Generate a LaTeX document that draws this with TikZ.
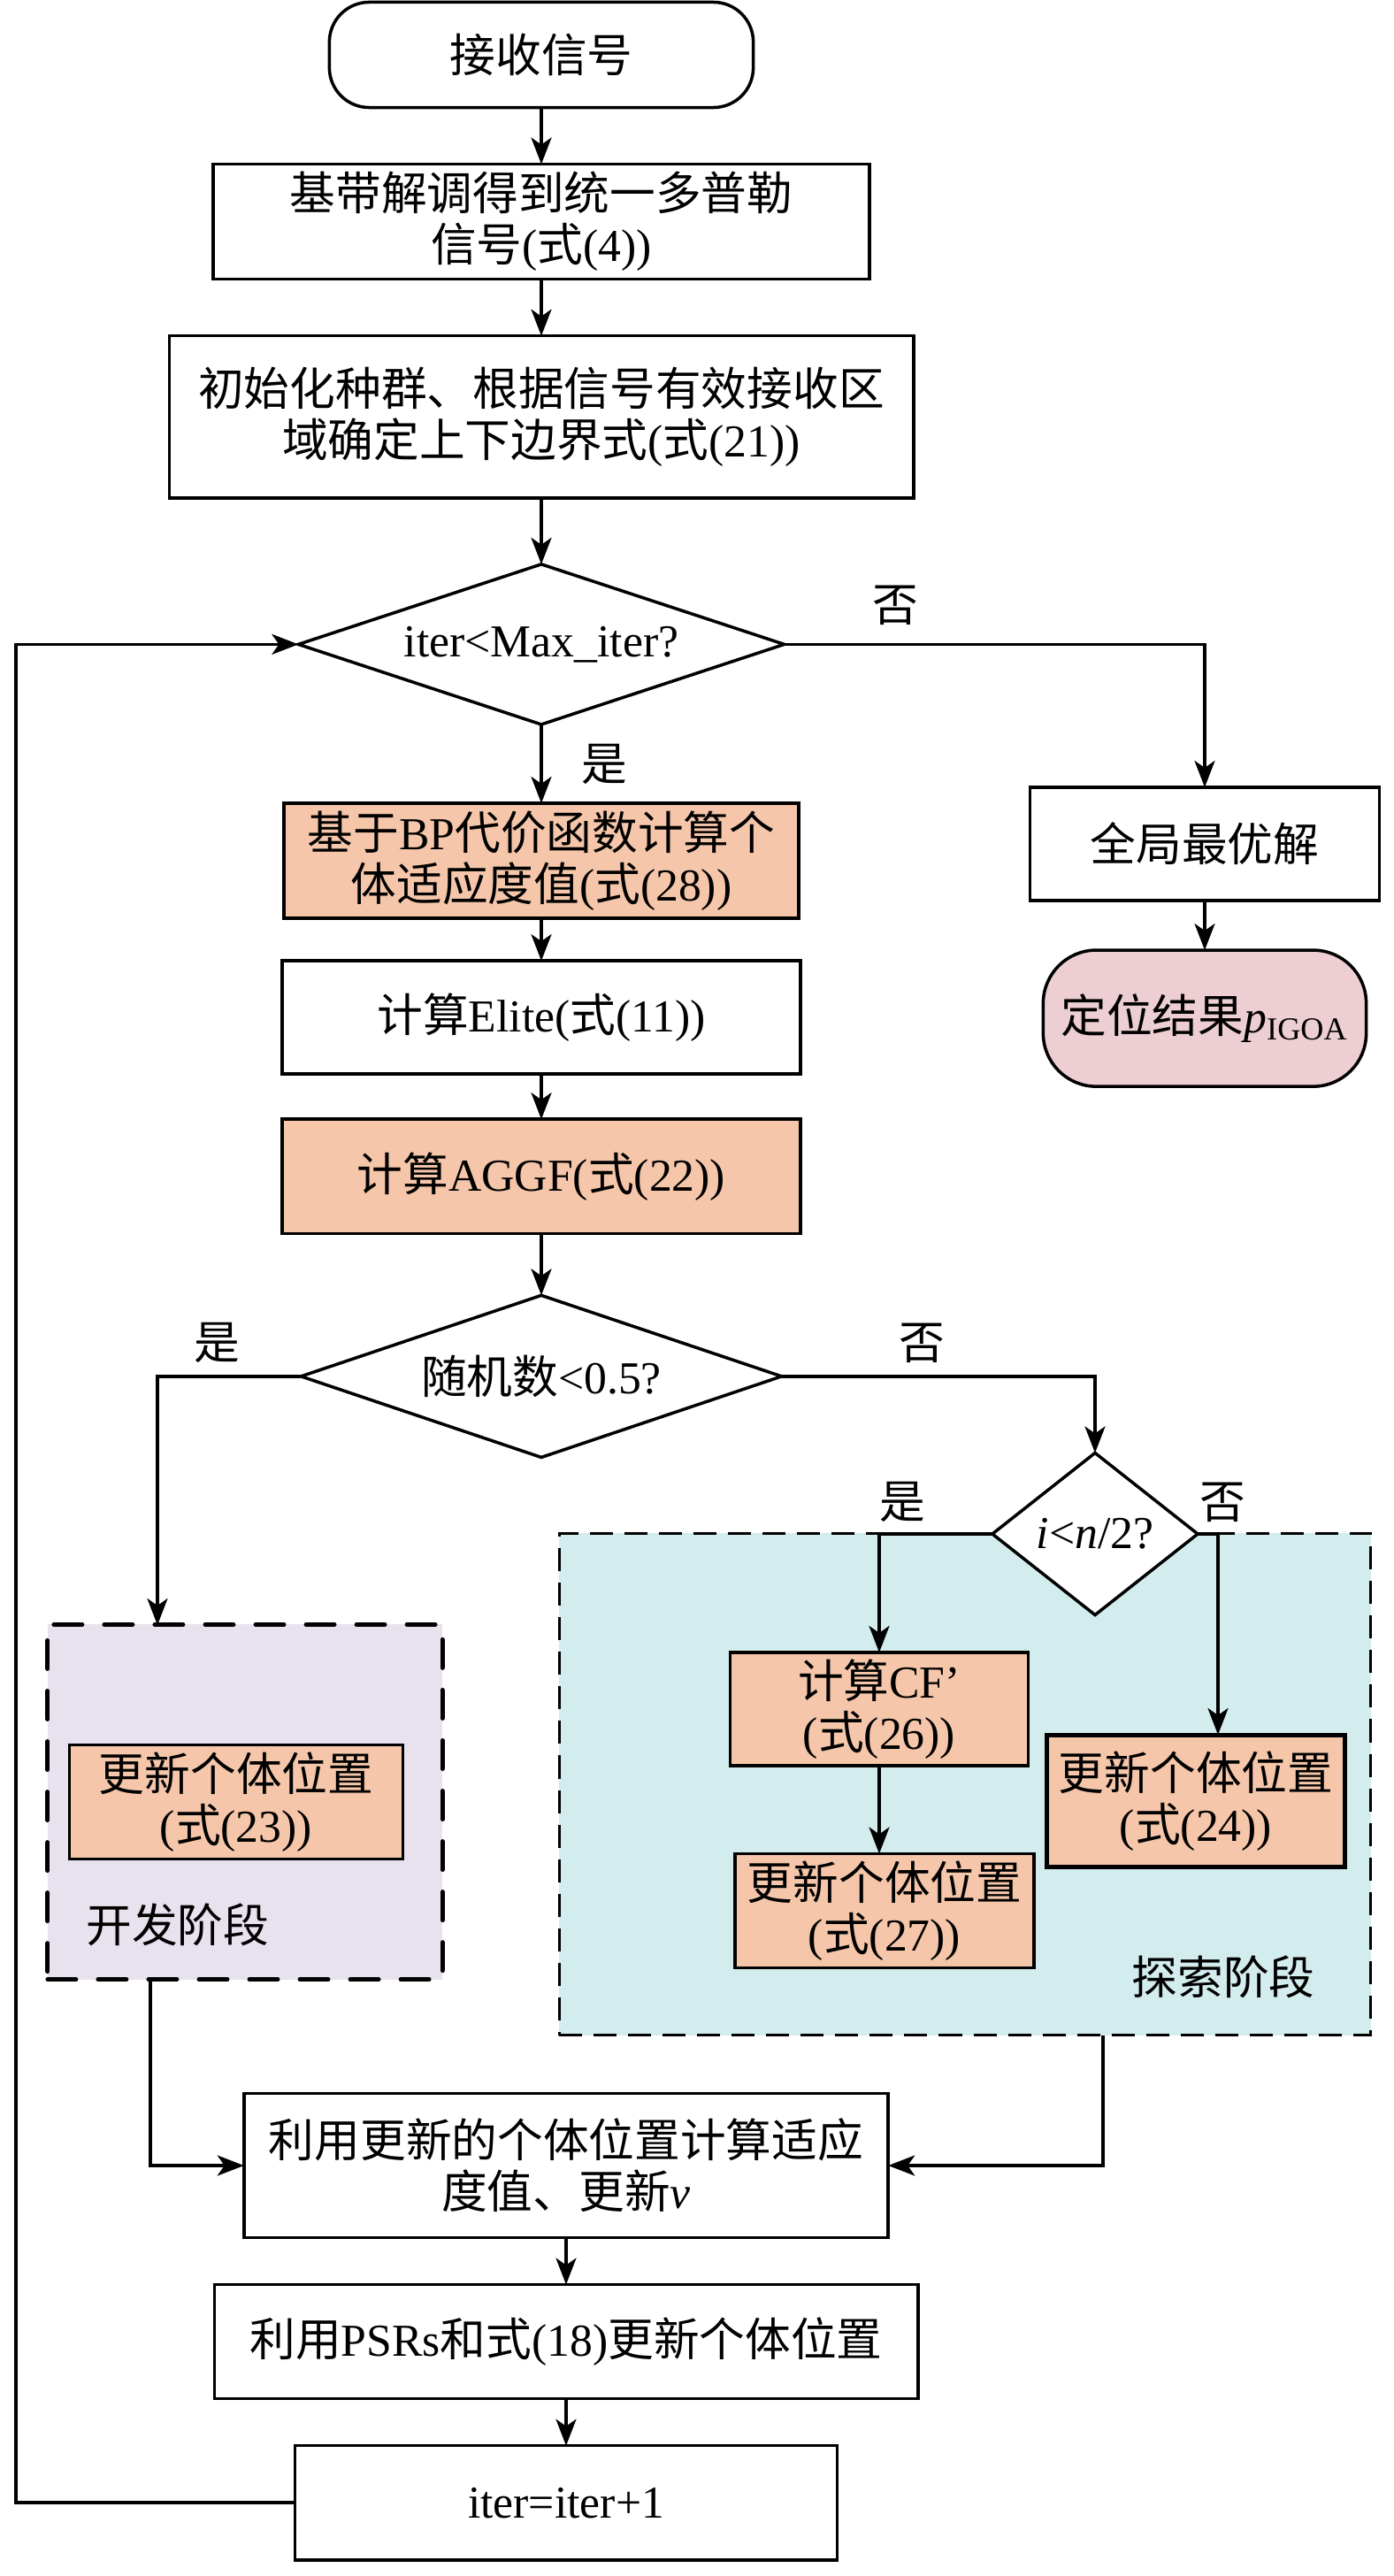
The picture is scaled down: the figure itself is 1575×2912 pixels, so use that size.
\documentclass[tikz,border=0pt]{standalone}
\usepackage{fontspec}
\setmainfont{Liberation Serif}
\newfontfamily\zhfont{Noto Sans CJK SC}
\usetikzlibrary{arrows.meta, positioning, shapes.geometric}

\definecolor{boxorange}{HTML}{F5C6A9}
\definecolor{resultpink}{HTML}{ECCED3}
\definecolor{devpurple}{HTML}{E8E1EE}
\definecolor{expcyan}{HTML}{D3ECED}

% switch to the CJK family for Chinese characters
\XeTeXinterchartokenstate=1
\newXeTeXintercharclass\zhclass
\newcount\zhcnt
\newcommand\zhrange[2]{%
  \zhcnt=#1\relax
  \loop
    \XeTeXcharclass\zhcnt=\zhclass
    \advance\zhcnt by 1
  \ifnum\zhcnt<#2\repeat}
\zhrange{"3000}{"3040}
\zhrange{"4E00}{"A000}
\zhrange{"FF00}{"FFF0}
\XeTeXinterchartoks 0 \zhclass = {\zhfont}
\XeTeXinterchartoks 4095 \zhclass = {\zhfont}
\XeTeXinterchartoks \zhclass 0 = {\rmfamily}
\XeTeXinterchartoks \zhclass 4095 = {\rmfamily}

\begin{document}
\begin{tikzpicture}[
  x=0.01cm, y=-0.01cm,
  shapebase/.style={draw, line width=1pt, inner sep=0pt, outer sep=0pt, align=center,
              font=\fontsize{14.7}{16.5}\selectfont},
  box/.style={shapebase, rectangle, fill=white},
  calcbox/.style={box, fill=boxorange},
  term/.style={shapebase, rectangle, rounded corners=0.45cm},
  cond/.style={shapebase, diamond, fill=white},
  arrow/.style={-{Stealth[length=0.3cm, width=0.23cm, inset=0.08cm]}, line width=1pt},
  lbl/.style={font=\fontsize{14.7}{16.5}\selectfont},
  devarea/.style={draw, fill=devpurple, line width=1.4pt, line cap=round,
              dash pattern=on 0.32cm off 0.25cm,
              minimum width=4.46cm, minimum height=4.01cm},
  exparea/.style={draw, fill=expcyan, line width=0.8pt,
              dash pattern=on 0.26cm off 0.13cm,
              minimum width=9.17cm, minimum height=5.67cm}
]
\useasboundingbox (0,0) rectangle (1575,2912);

\node[term, minimum width=4.79cm, minimum height=1.19cm] (start) at (612,62) {接收信号};
\node[box, minimum width=7.42cm, minimum height=1.30cm, below=0.64cm of start] (demod)
  {基带解调得到统一多普勒\\信号(式(4))};
\node[box, minimum width=8.41cm, minimum height=1.83cm, below=0.64cm of demod] (init)
  {初始化种群、根据信号有效接收区\\域确定上下边界式(式(21))};
\node[cond, aspect=3, minimum width=5.49cm, minimum height=1.81cm, below=0.75cm of init] (iterq)
  {iter<Max\_iter?};
\node[calcbox, minimum width=5.82cm, minimum height=1.30cm, below=0.89cm of iterq] (fitbp)
  {基于BP代价函数计算个\\体适应度值(式(28))};
\node[box, minimum width=5.86cm, minimum height=1.28cm, below=0.48cm of fitbp] (elite)
  {计算Elite(式(11))};
\node[calcbox, minimum width=5.86cm, minimum height=1.29cm, below=0.51cm of elite] (aggf)
  {计算AGGF(式(22))};
\node[cond, aspect=3, minimum width=5.43cm, minimum height=1.83cm, below=0.70cm of aggf] (randq)
  {随机数<0.5?};

\node[box, minimum width=3.95cm, minimum height=1.28cm] (best) at (1362,954) {全局最优解};
\node[term, fill=resultpink, rounded corners=0.6cm, minimum width=3.65cm, minimum height=1.54cm,
      below=0.56cm of best] (result) {定位结果\textit{p}\textsubscript{IGOA}};

\node[devarea] (devzone) at (277,2037) {};
\node[exparea] (expzone) at (1091,2017) {};
\node[calcbox, minimum width=3.77cm, minimum height=1.29cm] (upd23) at (267,2037)
  {更新个体位置\\(式(23))};
\node[lbl, anchor=west] (devlabel) at (85,2176) {开发阶段};
\node[cond, aspect=1.27, minimum width=2.32cm, minimum height=1.83cm] (iq) at (1238,1734)
  {\textit{i}<\textit{n}/2?};
\node[calcbox, minimum width=3.37cm, minimum height=1.28cm] (cf) at (994,1932)
  {计算CF’\\(式(26))};
\node[calcbox, minimum width=3.38cm, minimum height=1.29cm] (upd27) at (1000,2160)
  {更新个体位置\\(式(27))};
\node[calcbox, line width=1.5pt, minimum width=3.37cm, minimum height=1.49cm] (upd24) at (1352,2036)
  {更新个体位置\\(式(24))};
\node[lbl] (explabel) at (1383,2235) {探索阶段};

\node[box, minimum width=7.28cm, minimum height=1.63cm] (fitv) at (640,2448)
  {利用更新的个体位置计算适应\\度值、更新\textit{v}};
\node[box, minimum width=7.95cm, minimum height=1.29cm, below=0.53cm of fitv] (psr)
  {利用PSRs和式(18)更新个体位置};
\node[box, minimum width=6.13cm, minimum height=1.29cm, below=0.53cm of psr] (iterinc)
  {iter=iter+1};

\node[lbl] (no1)  at (1012,684)  {否};
\node[lbl] (yes1) at (683,864)   {是};
\node[lbl] (yes2) at (245,1518)  {是};
\node[lbl] (no2)  at (1042,1518) {否};
\node[lbl] (yes3) at (1020,1698) {是};
\node[lbl] (no3)  at (1382,1698) {否};

\coordinate (devin)  at (178,1837);
\coordinate (devout) at (170,2238);
\coordinate (noin)   at (1377,1961);
\coordinate (expout) at (1247,2301);
\coordinate (loop)   at (18,2830);

\draw[arrow] (start)  -- (start |- demod.north);
\draw[arrow] (demod)  -- (demod |- init.north);
\draw[arrow] (init)   -- (init |- iterq.north);
\draw[arrow] (iterq)  -- (fitbp);
\draw[arrow] (fitbp)  -- (elite);
\draw[arrow] (elite)  -- (aggf);
\draw[arrow] (aggf)   -- (randq);
\draw[arrow] (iterq.east) -| (best.north);
\draw[arrow] (best)   -- (result);
\draw[arrow] (randq.west) -| (devin);
\draw[arrow] (randq.east) -| (iq.north);
\draw[arrow] (iq.west) -| (cf.north);
\draw[arrow] (iq.east) -| (noin);
\draw[arrow] (cf)     -- (cf |- upd27.north);
\draw[arrow] (devout) |- (fitv.west);
\draw[arrow] (expout) |- (fitv.east);
\draw[arrow] (fitv)   -- (psr);
\draw[arrow] (psr)    -- (iterinc);
\draw[arrow] (iterinc.west) -- (iterinc.west -| loop) |- (iterq.west);
\end{tikzpicture}
\end{document}
